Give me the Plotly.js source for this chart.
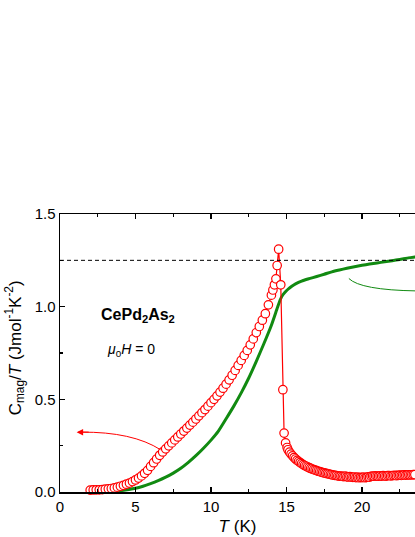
<!DOCTYPE html>
<html>
<head>
<meta charset="utf-8">
<script src="https://cdn.plot.ly/plotly-3.0.1.min.js"></script>
<style>
  html, body { margin: 0; padding: 0; background: #fff; overflow: hidden; }
  #myDiv { width: 415px; height: 537px; }
</style>
</head>
<body>
<div id="myDiv"></div>
<script>
// C_mag/T (red circles), T in K
var tMag = [2.0, 2.2, 2.4, 2.6, 2.8, 3.0, 3.2, 3.4, 3.6, 3.8,
            4.0, 4.2, 4.4, 4.6, 4.8, 5.0, 5.2, 5.4, 5.6, 5.8,
            6.0, 6.2, 6.4, 6.6, 6.8, 7.0, 7.2, 7.4, 7.6, 7.8,
            8.0, 8.2, 8.4, 8.6, 8.8, 9.0, 9.2, 9.4, 9.6, 9.8,
            10.0, 10.2, 10.4, 10.6, 10.8, 11.0, 11.2, 11.4, 11.6, 11.8,
            12.0, 12.2, 12.4, 12.6, 12.8, 13.0, 13.2, 13.4, 13.6, 13.8,
            14.0, 14.1, 14.2, 14.3, 14.38, 14.48, 14.62, 14.76, 14.84, 14.94,
            15.04, 15.1, 15.2, 15.3, 15.4, 15.5, 15.6, 15.7, 15.8, 15.9,
            16.0, 16.1, 16.2, 16.3, 16.4, 16.5, 16.6, 16.7, 16.8, 16.9,
            17.0, 17.1, 17.2, 17.3, 17.4, 17.5, 17.6, 17.7, 17.8, 17.9,
            18.0, 18.1, 18.2, 18.3, 18.4, 18.5, 18.6, 18.7, 18.8, 18.9,
            19.0, 19.1, 19.2, 19.3, 19.4, 19.5, 19.6, 19.7, 19.8, 19.9,
            20.0, 20.1, 20.2, 20.3, 20.4, 20.5, 20.6, 20.7, 20.8, 20.9,
            21.0, 21.1, 21.2, 21.3, 21.4, 21.5, 21.6, 21.7, 21.8, 21.9,
            22.0, 22.1, 22.2, 22.3, 22.4, 22.5, 22.6, 22.7, 22.8, 22.9,
            23.0, 23.1, 23.2, 23.3, 23.4, 23.5, 23.6];
var cMag = [0.010, 0.011, 0.012, 0.012, 0.013, 0.015, 0.017, 0.019, 0.022, 0.026,
            0.031, 0.036, 0.042, 0.048, 0.056, 0.065, 0.075, 0.087, 0.101, 0.117,
            0.138, 0.158, 0.178, 0.198, 0.216, 0.233, 0.249, 0.265, 0.281, 0.297,
            0.313, 0.329, 0.345, 0.361, 0.377, 0.394, 0.411, 0.428, 0.445, 0.463,
            0.482, 0.500, 0.519, 0.539, 0.560, 0.582, 0.605, 0.630, 0.656, 0.683,
            0.710, 0.737, 0.764, 0.794, 0.826, 0.860, 0.893, 0.927, 0.962, 1.010,
            1.062, 1.090, 1.118, 1.150, 1.222, 1.310, 1.118, 0.552, 0.318, 0.265,
            0.240, 0.228, 0.215, 0.204, 0.195, 0.186, 0.178, 0.171, 0.165, 0.159,
            0.153, 0.148, 0.143, 0.139, 0.135, 0.131, 0.127, 0.124, 0.121, 0.118,
            0.115, 0.112, 0.110, 0.107, 0.105, 0.103, 0.101, 0.099, 0.097, 0.095,
            0.093, 0.091, 0.090, 0.089, 0.087, 0.086, 0.086, 0.084, 0.083, 0.086,
            0.082, 0.081, 0.083, 0.080, 0.079, 0.081, 0.078, 0.080, 0.077, 0.079,
            0.078, 0.080, 0.077, 0.079, 0.082, 0.080, 0.084, 0.086, 0.085, 0.087,
            0.086, 0.085, 0.087, 0.086, 0.088, 0.087, 0.086, 0.088, 0.089, 0.087,
            0.088, 0.089, 0.090, 0.088, 0.090, 0.091, 0.090, 0.091, 0.092, 0.091,
            0.092, 0.093, 0.092, 0.093, 0.094, 0.094, 0.094];

// green curve
var tLine = [2.0, 3.0, 4.0, 5.0, 5.5, 6.0, 6.5, 7.0, 7.5, 8.0,
             8.5, 9.0, 9.5, 10.0, 10.5, 11.0, 11.5, 12.0, 12.5, 13.0,
             13.5, 14.0, 14.4, 14.6, 14.75, 14.9, 15.1, 15.35, 15.6, 16.0,
             16.5, 17.0, 17.5, 18.0, 18.5, 19.0, 19.5, 20.0, 20.5, 21.0,
             21.5, 22.0, 22.5, 23.0, 23.5, 23.6];
var cLine = [0.000, 0.002, 0.007, 0.020, 0.031, 0.045, 0.061, 0.080, 0.102, 0.128,
             0.160, 0.196, 0.236, 0.280, 0.330, 0.395, 0.462, 0.535, 0.615, 0.705,
             0.800, 0.900, 0.995, 1.040, 1.063, 1.078, 1.094, 1.110, 1.123, 1.138,
             1.151, 1.163, 1.175, 1.188, 1.198, 1.207, 1.215, 1.223, 1.230, 1.236,
             1.242, 1.248, 1.255, 1.262, 1.268, 1.270];

var refLevel = 1.25;

var xTicks = [0, 5, 10, 15, 20];
var yTicks = [0.0, 0.5, 1.0, 1.5];
var yTickText = ['0.0', '0.5', '1.0', '1.5'];

var fontFam = 'Arial, "Liberation Sans", sans-serif';

var green = {
  x: tLine, y: cLine,
  type: 'scatter', mode: 'lines',
  line: {color: '#118a11', width: 3, shape: 'spline', smoothing: 0.6},
  hoverinfo: 'skip'
};

var red = {
  x: tMag, y: cMag,
  type: 'scatter', mode: 'lines+markers',
  line: {color: '#ff0000', width: 1.2},
  marker: {symbol: 'circle', size: 8.5, color: '#ffffff',
           line: {color: '#ff0000', width: 1.2}},
  cliponaxis: false
};

var data = [green, red];

var layout = {
  width: 415, height: 537,
  margin: {l: 60, r: 0, t: 214, b: 45},
  paper_bgcolor: '#ffffff', plot_bgcolor: '#ffffff',
  showlegend: false,
  font: {family: fontFam, color: '#000', size: 15},
  xaxis: {
    range: [0, 23.51],
    tickvals: xTicks,
    ticks: 'inside', ticklen: 5, tickwidth: 1.2, tickcolor: '#000',
    minor: {ticks: 'inside', ticklen: 3, tickwidth: 1.2, dtick: 2.5, tick0: 0, tickcolor: '#000'},
    showline: true, linecolor: '#000', linewidth: 1.5,
    mirror: 'ticks',
    showgrid: false, zeroline: false,
    tickfont: {size: 15},
    title: {text: '<i>T</i> (K)', font: {size: 17}, standoff: 6}
  },
  yaxis: {
    range: [0, 1.5],
    tickvals: yTicks, ticktext: yTickText,
    ticks: 'inside', ticklen: 5, tickwidth: 1.2, tickcolor: '#000',
    minor: {ticks: 'inside', ticklen: 3, tickwidth: 1.2, dtick: 0.25, tick0: 0, tickcolor: '#000'},
    showline: true, linecolor: '#000', linewidth: 1.5,
    showgrid: false, zeroline: false,
    tickfont: {size: 15}
  },
  shapes: [
    {type: 'line', xref: 'paper', yref: 'y', x0: 0, x1: 1, y0: refLevel, y1: refLevel,
     line: {color: '#000', width: 1, dash: '4px,3px'}},
    // red arrow to the left axis
    {type: 'path', xref: 'x', yref: 'y', path: 'M 6.66,0.228 Q 4.8,0.325 1.4,0.323',
     line: {color: '#ff0000', width: 1}},
    // green arrow to the right axis
    {type: 'path', xref: 'x', yref: 'y', path: 'M 19.13,1.152 Q 19.9,1.09 23.6,1.085',
     line: {color: '#118a11', width: 1}}
  ],
  annotations: [
    // y axis title, placed by hand
    {xref: 'paper', yref: 'paper', x: -0.127, y: 0.52, textangle: -90,
     xanchor: 'center', yanchor: 'middle', showarrow: false,
     text: 'C<sub>mag</sub>/<i>T</i> (Jmol<sup>-1</sup>K<sup>-2</sup>)', font: {size: 17}},
    {x: 1.1, y: 0.323, xref: 'x', yref: 'y', ax: 2.0, ay: 0.323, axref: 'x', ayref: 'y',
     text: '', showarrow: true, arrowhead: 2, arrowsize: 1.3, arrowwidth: 1, arrowcolor: '#ff0000'},
    {x: 5.15, y: 0.95, xref: 'x', yref: 'y', showarrow: false,
     text: '<b>CePd<sub>2</sub>As<sub>2</sub></b>', font: {size: 16}},
    {x: 4.7, y: 0.765, xref: 'x', yref: 'y', showarrow: false,
     text: '<i>\u03bc</i><sub>0</sub><i>H</i> = 0', font: {size: 14}}
  ]
};

Plotly.newPlot('myDiv', data, layout, {displayModeBar: false, staticPlot: true});
</script>
</body>
</html>
